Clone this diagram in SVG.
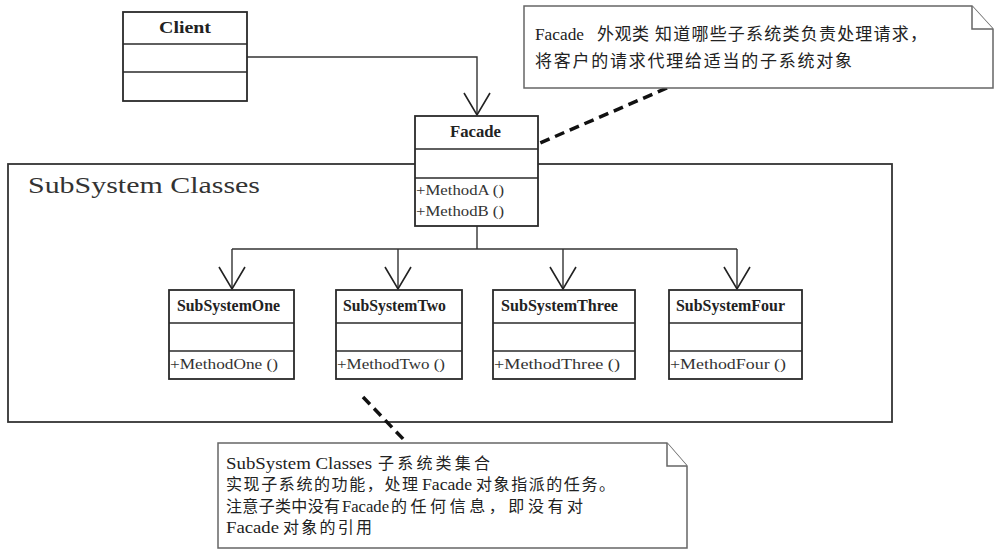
<svg xmlns="http://www.w3.org/2000/svg" width="1001" height="554" viewBox="0 0 1001 554">
<defs>
<marker id="open" markerUnits="userSpaceOnUse" markerWidth="30" markerHeight="30" refX="0" refY="0" viewBox="-24 -15 26 30" orient="auto">
<path d="M-22,-13 L0,0 L-22,13" fill="none" stroke="#222" stroke-width="1.6"/>
</marker>
</defs>
<style>
.box{fill:#fff;stroke:#2a2a2a;stroke-width:1.8}
.div{stroke:#2a2a2a;stroke-width:1.6}
.frame{fill:none;stroke:#333;stroke-width:1.8}
.conn{fill:none;stroke:#333;stroke-width:1.4}
.dash{fill:none;stroke:#111;stroke-width:3.5;stroke-dasharray:10 6}
.note{fill:#fff;stroke:#666;stroke-width:1.5}
.name{font-family:"Liberation Serif",serif;font-weight:bold;font-size:16px;fill:#222}
.meth{font-family:"Liberation Serif",serif;font-size:15px;fill:#333}
.lat{font-family:"Liberation Serif",serif;font-size:17px;fill:#222}
.cjk{font-family:"Noto Sans CJK SC",sans-serif;font-size:17px;fill:#222}
.cjk2{font-family:"Noto Sans CJK SC",sans-serif;font-size:16px;fill:#222}
.frt{font-family:"Liberation Serif",serif;font-size:23px;fill:#333}
</style>
<rect width="1001" height="554" fill="#fff"/>

<g id="subsystem-frame">
<rect class="frame" x="8" y="164" width="884" height="258"/>
<text class="frt" x="28" y="193" textLength="232" lengthAdjust="spacingAndGlyphs">SubSystem Classes</text>
</g>

<g id="connectors">
<polyline class="conn" points="247,57 477,57 477,115" marker-end="url(#open)"/>
<polyline class="conn" points="477,226 477,249"/>
<polyline class="conn" points="232,249 737,249"/>
<line class="conn" x1="232" y1="249" x2="232" y2="289" marker-end="url(#open)"/>
<line class="conn" x1="398" y1="249" x2="398" y2="289" marker-end="url(#open)"/>
<line class="conn" x1="563" y1="249" x2="563" y2="289" marker-end="url(#open)"/>
<line class="conn" x1="737" y1="249" x2="737" y2="289" marker-end="url(#open)"/>
<line class="dash" x1="667" y1="88" x2="540" y2="143"/>
<line class="dash" x1="363" y1="397" x2="407" y2="443"/>
</g>

<g id="client">
<rect class="box" x="123" y="12" width="124" height="89"/>
<line class="div" x1="123" y1="44" x2="247" y2="44"/>
<line class="div" x1="123" y1="72" x2="247" y2="72"/>
<text class="name" x="159" y="33" textLength="52" lengthAdjust="spacingAndGlyphs">Client</text>
</g>

<g id="facade">
<rect class="box" x="415" y="116" width="123" height="110"/>
<line class="div" x1="415" y1="149" x2="538" y2="149"/>
<line class="div" x1="415" y1="178" x2="538" y2="178"/>
<text class="name" x="450" y="137" textLength="51" lengthAdjust="spacingAndGlyphs">Facade</text>
<text class="meth" x="416" y="195" textLength="88" lengthAdjust="spacingAndGlyphs">+MethodA ()</text>
<text class="meth" x="416" y="216" textLength="88" lengthAdjust="spacingAndGlyphs">+MethodB ()</text>
</g>

<g id="subsystem-one">
<rect class="box" x="169" y="290" width="125" height="89"/>
<line class="div" x1="169" y1="323" x2="294" y2="323"/>
<line class="div" x1="169" y1="351" x2="294" y2="351"/>
<text class="name" x="177" y="311" textLength="103" lengthAdjust="spacingAndGlyphs">SubSystemOne</text>
<text class="meth" x="170" y="369" textLength="108" lengthAdjust="spacingAndGlyphs">+MethodOne ()</text>
</g>

<g id="subsystem-two">
<rect class="box" x="336" y="290" width="126" height="89"/>
<line class="div" x1="336" y1="323" x2="462" y2="323"/>
<line class="div" x1="336" y1="351" x2="462" y2="351"/>
<text class="name" x="343" y="311" textLength="103" lengthAdjust="spacingAndGlyphs">SubSystemTwo</text>
<text class="meth" x="337" y="369" textLength="108" lengthAdjust="spacingAndGlyphs">+MethodTwo ()</text>
</g>

<g id="subsystem-three">
<rect class="box" x="493" y="290" width="142" height="89"/>
<line class="div" x1="493" y1="323" x2="635" y2="323"/>
<line class="div" x1="493" y1="351" x2="635" y2="351"/>
<text class="name" x="501" y="311" textLength="117" lengthAdjust="spacingAndGlyphs">SubSystemThree</text>
<text class="meth" x="494" y="369" textLength="126" lengthAdjust="spacingAndGlyphs">+MethodThree ()</text>
</g>

<g id="subsystem-four">
<rect class="box" x="669" y="290" width="133" height="89"/>
<line class="div" x1="669" y1="323" x2="802" y2="323"/>
<line class="div" x1="669" y1="351" x2="802" y2="351"/>
<text class="name" x="676" y="311" textLength="109" lengthAdjust="spacingAndGlyphs">SubSystemFour</text>
<text class="meth" x="670" y="369" textLength="116" lengthAdjust="spacingAndGlyphs">+MethodFour ()</text>
</g>

<g id="note-facade">
<path class="note" d="M524,6 H972 L993,29 V88 H524 Z"/>
<path class="note" d="M972,6 V29 H993" fill="none"/>
<text y="40"><tspan class="lat" x="535" textLength="49" lengthAdjust="spacingAndGlyphs">Facade</tspan><tspan class="cjk" x="597" textLength="52" lengthAdjust="spacing">外观类</tspan><tspan class="cjk" x="655" textLength="272" lengthAdjust="spacing">知道哪些子系统类负责处理请求，</tspan></text>
<text y="67"><tspan class="cjk" x="535" textLength="317" lengthAdjust="spacing">将客户的请求代理给适当的子系统对象</tspan></text>
</g>

<g id="note-subsystem">
<path class="note" d="M218,443 H667 L687,466 V548 H218 Z"/>
<path class="note" d="M667,443 V466 H687" fill="none"/>
<text y="469"><tspan class="lat" x="226" textLength="146" lengthAdjust="spacingAndGlyphs" style="font-size:16px">SubSystem Classes</tspan><tspan class="cjk2" x="378" textLength="112" lengthAdjust="spacing">子系统类集合</tspan></text>
<text y="490"><tspan class="cjk2" x="226" textLength="192" lengthAdjust="spacing">实现子系统的功能，处理</tspan><tspan class="lat" x="422" textLength="50" lengthAdjust="spacingAndGlyphs">Facade</tspan><tspan class="cjk2" x="476" textLength="139" lengthAdjust="spacing">对象指派的任务。</tspan></text>
<text y="512"><tspan class="cjk2" x="226" textLength="114" lengthAdjust="spacing">注意子类中没有</tspan><tspan class="lat" x="342" textLength="47" lengthAdjust="spacingAndGlyphs">Facade</tspan><tspan class="cjk2" x="391" textLength="192" lengthAdjust="spacing">的任何信息，即没有对</tspan></text>
<text y="533"><tspan class="lat" x="226" textLength="53" lengthAdjust="spacingAndGlyphs">Facade</tspan><tspan class="cjk2" x="283" textLength="89" lengthAdjust="spacing">对象的引用</tspan></text>
</g>
</svg>
